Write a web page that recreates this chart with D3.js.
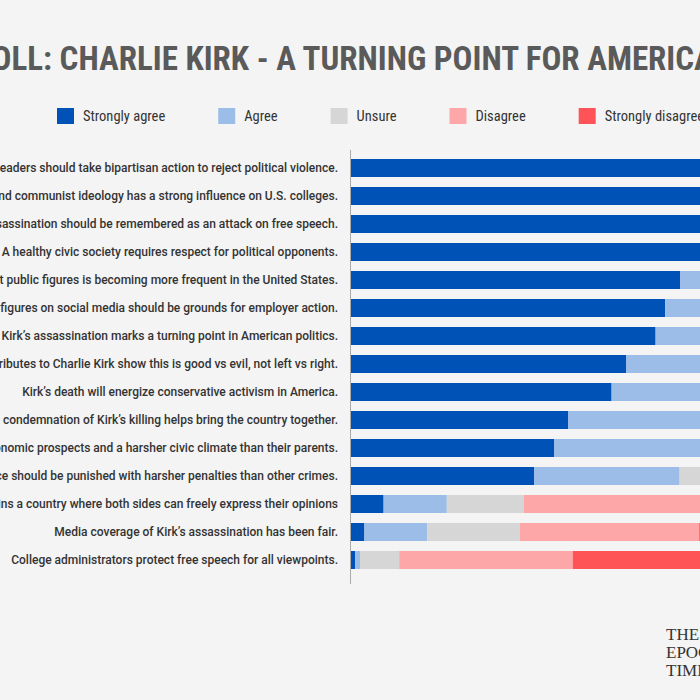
<!DOCTYPE html>
<html>
<head>
<meta charset="utf-8">
<script src="https://cdn.jsdelivr.net/npm/d3@7"></script>
<style>
  html, body { margin: 0; padding: 0; background: #f4f4f4; overflow: hidden; }
  svg { display: block; }
</style>
</head>
<body>
<script>
// poll statements, top to bottom
var statements = [
  "Political leaders should take bipartisan action to reject political violence.",
  "Marxist and communist ideology has a strong influence on U.S. colleges.",
  "Kirk’s assassination should be remembered as an attack on free speech.",
  "A healthy civic society requires respect for political opponents.",
  "Political violence against public figures is becoming more frequent in the United States.",
  "Celebrating attacks on public figures on social media should be grounds for employer action.",
  "Kirk’s assassination marks a turning point in American politics.",
  "Public tributes to Charlie Kirk show this is good vs evil, not left vs right.",
  "Kirk’s death will energize conservative activism in America.",
  "Bipartisan condemnation of Kirk’s killing helps bring the country together.",
  "Young Americans face worse economic prospects and a harsher civic climate than their parents.",
  "Politically motivated violence should be punished with harsher penalties than other crimes.",
  "America remains a country where both sides can freely express their opinions",
  "Media coverage of Kirk’s assassination has been fair.",
  "College administrators protect free speech for all viewpoints."
];

var responses = ["Strongly agree", "Agree", "Unsure", "Disagree", "Strongly disagree"];
var colors = ["#0052b6", "#9bbde8", "#d6d6d6", "#fea7a9", "#fe5457"];

// percentages per response
var stronglyAgree    = [93, 91, 90, 89, 82.5, 78.8, 76.4, 69, 65.4, 54.5, 51, 46, 8.4, 3.6, 1.3];
var agree            = [5, 6, 7, 8, 12, 15, 17, 22, 26, 35, 38, 36.4, 15.8, 15.7, 1.2];
var unsure           = [1, 2, 2, 2, 4, 4, 5, 6, 6, 7, 7, 10, 19.3, 23.2, 9.8];
var disagree         = [0.5, 0.6, 0.6, 0.6, 1, 1.5, 1, 2, 2, 2, 2, 5, 46, 44.8, 43.4];
var stronglyDisagree = [0.5, 0.4, 0.4, 0.4, 0.5, 0.7, 0.6, 1, 0.6, 1.5, 2, 2.6, 10.5, 12.7, 44.3];

var width = 700,
    height = 700;

var condensed = "'Roboto Condensed', 'Liberation Sans Narrow', 'DejaVu Sans Condensed', sans-serif";

var svg = d3.select("body")
  .append("svg")
  .attr("width", width)
  .attr("height", height);

svg.append("rect")
  .attr("width", width)
  .attr("height", height)
  .attr("fill", "#f4f4f4");

// title
svg.append("text")
  .attr("x", 350)
  .attr("y", 70)
  .attr("text-anchor", "middle")
  .attr("font-family", condensed)
  .attr("font-weight", "bold")
  .attr("font-size", 33)
  .attr("fill", "#5a5a5a")
  .text("POLL: CHARLIE KIRK - A TURNING POINT FOR AMERICA?");

// legend, laid out by text width
var legend = svg.append("g");
var lx = 57;
responses.forEach(function(r, i){
  legend.append("rect")
    .attr("x", lx)
    .attr("y", 108)
    .attr("width", 17)
    .attr("height", 16)
    .attr("fill", colors[i]);
  var t = legend.append("text")
    .attr("x", lx + 26)
    .attr("y", 121)
    .attr("font-family", condensed)
    .attr("font-size", 14.5)
    .attr("fill", "#333")
    .text(r);
  lx += 26 + t.node().getComputedTextLength() + 53;
});

// scales
var x = d3.scaleLinear()
  .domain([0, 100])
  .range([350, 750]);

var y = d3.scaleBand()
  .domain(statements)
  .range([154, 574])
  .paddingInner(10 / 28)
  .paddingOuter(5 / 28);

// stack the series
var rows = statements.map(function(s, i){
  return {
    statement: s,
    "Strongly agree": stronglyAgree[i],
    "Agree": agree[i],
    "Unsure": unsure[i],
    "Disagree": disagree[i],
    "Strongly disagree": stronglyDisagree[i]
  };
});

var series = d3.stack().keys(responses)(rows);

svg.selectAll(".series")
  .data(series)
  .enter()
  .append("g")
  .attr("class", "series")
  .attr("fill", function(d, i){ return colors[i]; })
  .selectAll("rect")
  .data(function(d){ return d; })
  .enter()
  .append("rect")
  .attr("x", function(d){ return x(d[0]); })
  .attr("y", function(d){ return y(d.data.statement); })
  .attr("width", function(d){ return x(d[1]) - x(d[0]); })
  .attr("height", y.bandwidth());

// statement labels
svg.selectAll(".label")
  .data(statements)
  .enter()
  .append("text")
  .attr("class", "label")
  .attr("x", 338)
  .attr("y", function(d){ return y(d) + y.bandwidth() / 2; })
  .attr("dy", "0.35em")
  .attr("text-anchor", "end")
  .attr("font-family", "Roboto, sans-serif")
  .attr("font-weight", 500)
  .attr("font-size", 12)
  .attr("fill", "#333")
  .text(function(d){ return d; });

// axis line
svg.append("line")
  .attr("x1", 350.5)
  .attr("x2", 350.5)
  .attr("y1", 150)
  .attr("y2", 584)
  .attr("stroke", "#aaa")
  .attr("stroke-width", 1);

// logo
var logo = ["THE", "EPOCH", "TIMES"];
svg.selectAll(".logo")
  .data(logo)
  .enter()
  .append("text")
  .attr("class", "logo")
  .attr("x", 666)
  .attr("y", function(d, i){ return 640 + i * 18; })
  .attr("font-family", "'Liberation Serif', serif")
  .attr("font-size", 17)
  .attr("fill", "#333")
  .text(function(d){ return d; });
</script>
</body>
</html>
